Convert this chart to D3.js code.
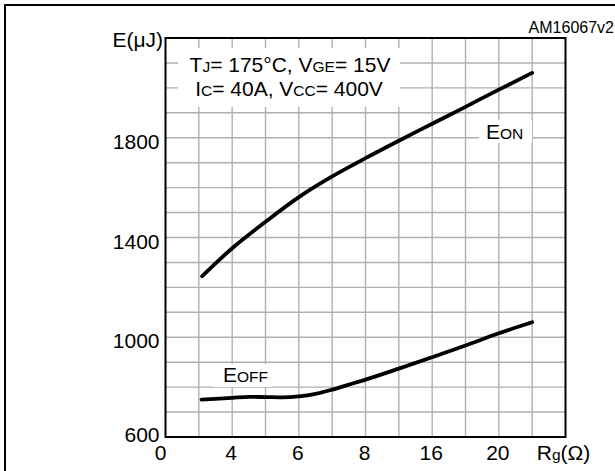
<!DOCTYPE html>
<html>
<head>
<meta charset="utf-8">
<script src="https://cdn.jsdelivr.net/npm/d3@7"></script>
<style>
  html, body { margin: 0; padding: 0; background: #fff; }
  svg { display: block; font-family: "Liberation Sans", Arial, Helvetica, sans-serif; }
</style>
</head>
<body>
<svg id="chart" width="615" height="471"></svg>
<script>
// ---- data (x in grid-column units of the non-linear Rg axis) ----
const xTickPos = [0, 2, 4, 6, 8, 10];
const xTickLabels = ["0", "4", "6", "8", "16", "20"];
const yTicks = [600, 1000, 1400, 1800];
const eonX = [1.1, 2, 3, 4, 5, 6, 7, 8, 9, 10, 11];
const eonY = [1245, 1357, 1463, 1562, 1645, 1718, 1788, 1856, 1924, 1993, 2060];
const eoffX = [1.08, 2, 2.5, 3, 3.5, 4, 4.5, 5, 5.5, 6, 7, 8, 9, 10, 11];
const eoffY = [750, 757, 761, 760, 759, 763, 773, 790, 810, 830, 874, 920, 967, 1016, 1060];

const svg = d3.select("#chart");
const x = d3.scaleLinear().domain([0, 12]).range([165.5, 565.5]);
const y = d3.scaleLinear().domain([600, 2200]).range([437, 38]);

// outer frame
svg.append("rect").attr("x", 5).attr("y", 5).attr("width", 700).attr("height", 600)
  .attr("fill", "none").attr("stroke", "#000").attr("stroke-width", 2);

// grid
const g = svg.append("g");
g.selectAll(".vg").data(d3.range(1, 12)).join("line")
  .attr("x1", d => x(d)).attr("x2", d => x(d)).attr("y1", y(2200)).attr("y2", y(600))
  .attr("stroke", "#b0b0b0").attr("stroke-width", 1.4);
g.selectAll(".hg").data(d3.range(700, 2200, 100)).join("line")
  .attr("y1", d => y(d)).attr("y2", d => y(d)).attr("x1", x(0)).attr("x2", x(12))
  .attr("stroke", "#b0b0b0").attr("stroke-width", 1.4);

// white label boxes
[[178, 48, 222, 59], [479, 120, 53, 23], [213, 364, 59, 23]].forEach(b => {
  svg.append("rect").attr("x", b[0]).attr("y", b[1]).attr("width", b[2]).attr("height", b[3]).attr("fill", "#fff");
});

// curves
const line = d3.line().x(d => x(d[0])).y(d => y(d[1])).curve(d3.curveMonotoneX);
[[eonX, eonY], [eoffX, eoffY]].forEach(([xs, ys]) => {
  svg.append("path").datum(xs.map((v, i) => [v, ys[i]])).attr("d", line)
    .attr("fill", "none").attr("stroke", "#000").attr("stroke-width", 3.8)
    .attr("stroke-linecap", "round").attr("stroke-linejoin", "round");
});

// plot frame
svg.append("rect").attr("x", x(0)).attr("y", y(2200)).attr("width", x(12) - x(0)).attr("height", y(600) - y(2200))
  .attr("fill", "none").attr("stroke", "#000").attr("stroke-width", 2);

const big = 21, small = 15.5;
// y tick labels
svg.selectAll(".yt").data(yTicks).join("text")
  .attr("x", 159.5).attr("y", d => Math.min(y(d) + 11, 442))
  .attr("text-anchor", "end").attr("font-size", big).text(d => d);
// x tick labels
svg.selectAll(".xt").data(xTickPos).join("text")
  .attr("x", (d, i) => i === 0 ? x(d) + 1 : x(d) - 1)
  .attr("y", 460).attr("text-anchor", (d, i) => i === 0 ? "end" : "middle")
  .attr("font-size", big).text((d, i) => xTickLabels[i]);
const rg = svg.append("text").attr("x", x(12) - 2).attr("y", 460).attr("text-anchor", "middle").attr("font-size", big);
rg.append("tspan").text("R");
rg.append("tspan").attr("font-size", small).text("g");
rg.append("tspan").text("(Ω)");

// axis title
svg.append("text").attr("x", 163).attr("y", 47).attr("text-anchor", "end").attr("font-size", big).text("E(μJ)");
// figure id
svg.append("text").attr("x", 614).attr("y", 33).attr("text-anchor", "end").attr("font-size", 16).text("AM16067v2");

// conditions text
function rich(parent, parts) {
  parts.forEach(p => parent.append("tspan").attr("font-size", p[1] ? small : big).text(p[0]));
}
const t1 = svg.append("text").attr("x", 290).attr("y", 72).attr("text-anchor", "middle");
rich(t1, [["T", 0], ["J", 1], ["= 175°C, V", 0], ["GE", 1], ["= 15V", 0]]);
const t2 = svg.append("text").attr("x", 289).attr("y", 96).attr("text-anchor", "middle");
rich(t2, [["I", 0], ["C", 1], ["= 40A, V", 0], ["CC", 1], ["= 400V", 0]]);

// series labels
const l1 = svg.append("text").attr("x", 486).attr("y", 139);
rich(l1, [["E", 0], ["ON", 1]]);
const l2 = svg.append("text").attr("x", 223).attr("y", 382);
rich(l2, [["E", 0], ["OFF", 1]]);
</script>
</body>
</html>
